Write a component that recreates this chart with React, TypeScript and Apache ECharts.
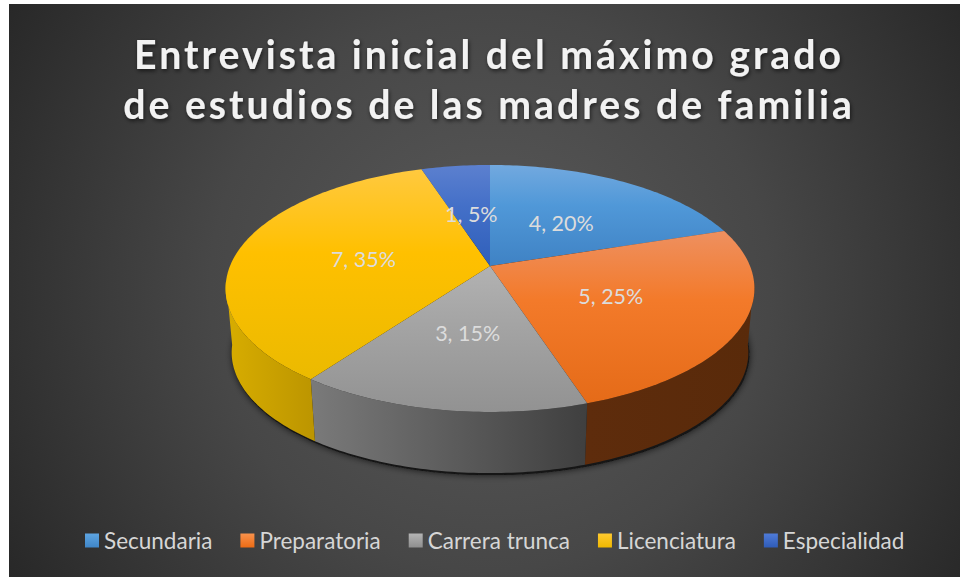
import React, { useEffect, useRef } from "react";
import * as echarts from "echarts";

const categories = ["Secundaria", "Preparatoria", "Carrera trunca", "Licenciatura", "Especialidad"];
const values = [4, 5, 3, 7, 1];
const titleLines = ["Entrevista inicial del máximo grado", "de estudios de las madres de familia"];

const topStops = [
  ["#72a9df", "#5098d8", "#3f82c4"],
  ["#ee9060", "#f37a2a", "#e56b18"],
  ["#b2b2b2", "#a4a4a4", "#929292"],
  ["#ffc93f", "#ffc000", "#ebba00"],
  ["#5c80cf", "#4470c8", "#2f5fba"],
];
const sideStops = [
  ["#3a6a9a", "#3a6a9a"],
  ["#5e2c0c", "#592a0a"],
  ["#7a7a7a", "#3f3f3f"],
  ["#d8ad00", "#bd9600"],
  ["#2a4a8a", "#2a4a8a"],
];
const legendStops = [
  ["#5ea5e2", "#3f86c8"],
  ["#f9924c", "#ec6b14"],
  ["#b4b4b4", "#8f8f8f"],
  ["#ffca30", "#f0b800"],
  ["#4f7bd8", "#2f5cb8"],
];

const AX = 490, AY = 266, RX = 260, RY = 119.4, P = 0.182;
const BOTTOM_Y = 330.5, BOTTOM_S = 0.977;
const total = values.reduce((a, b) => a + b, 0);

function project(deg: number, r = 1): [number, number] {
  const t = (deg * Math.PI) / 180;
  const u = r * Math.sin(t), v = -r * Math.cos(t);
  const d = 1 - P * v;
  return [AX + (RX * u) / d, AY + (RY * v) / d];
}
function lower(p: [number, number]): [number, number] {
  return [AX + BOTTOM_S * (p[0] - AX), BOTTOM_Y + BOTTOM_S * (p[1] - AY)];
}
function arc(a: number, b: number): [number, number][] {
  const pts: [number, number][] = [];
  const n = Math.max(2, Math.ceil(Math.abs(b - a)));
  for (let i = 0; i <= n; i++) pts.push(project(a + ((b - a) * i) / n));
  return pts;
}

function sliceItem(i: number) {
  return (_params: any, api: any) => {
    const value = api.value(0);
    const before = values.slice(0, i).reduce((a, b) => a + b, 0);
    const a0 = (before / total) * 360;
    const a1 = ((before + value) / total) * 360;
    const children: any[] = [];
    const s0 = Math.max(a0, 97), s1 = Math.min(a1, 263);
    if (s1 > s0) {
      const rim = arc(s0, s1);
      const xs = rim.map((p) => p[0]);
      children.push({
        type: "polygon", z2: 1,
        shape: { points: [...rim, ...rim.map(lower).reverse()] },
        style: {
          fill: new echarts.graphic.LinearGradient(Math.min(...xs), 0, Math.max(...xs), 0,
            [{ offset: 0, color: sideStops[i][0] }, { offset: 1, color: sideStops[i][1] }], true),
        },
      });
    }
    const outline: [number, number][] = [[AX, AY], ...arc(a0, a1)];
    const ys = outline.map((p) => p[1]);
    children.push({
      type: "polygon", z2: 10,
      shape: { points: outline },
      style: {
        fill: new echarts.graphic.LinearGradient(0, Math.min(...ys), 0, Math.max(...ys), [
          { offset: 0, color: topStops[i][0] },
          { offset: 0.4, color: topStops[i][1] },
          { offset: 1, color: topStops[i][2] },
        ], true),
      },
    });
    const mid = project((a0 + a1) / 2, 0.5);
    children.push({
      type: "text", z2: 20,
      style: {
        text: `${value}, ${Math.round((value / total) * 100)}%`,
        x: mid[0], y: mid[1] + 2,
        align: "center", verticalAlign: "middle",
        fill: "#dcdcdc", font: "21.5px Lato",
      },
    });
    return { type: "group", children };
  };
}

function shadowItem() {
  const rim = arc(0, 360).map(lower).map((p) => [p[0] + 1, p[1] + 2]);
  return {
    type: "polygon",
    shape: { points: rim },
    style: { fill: "#141414", shadowBlur: 7, shadowColor: "rgba(0,0,0,0.75)" },
  };
}

export default function App() {
  const ref = useRef<HTMLDivElement>(null);
  useEffect(() => {
    const chart = echarts.init(ref.current!, undefined, { renderer: "svg" });
    const spaceTitle = () => {
      ref.current?.querySelectorAll("text").forEach((t) => {
        if (titleLines.includes((t.textContent || "").trim())) t.style.letterSpacing = "3px";
      });
    };
    chart.setOption({
      animation: false,
      backgroundColor: "#ffffff",
      title: {
        text: titleLines.join("\n"),
        left: 484, top: 23, textAlign: "center",
        textStyle: {
          color: "#f2f2f2", fontFamily: "Lato", fontWeight: "bold", fontSize: 39.2, lineHeight: 50,
          textShadowColor: "rgba(0,0,0,0.6)", textShadowBlur: 4, textShadowOffsetX: 1, textShadowOffsetY: 2,
        },
      },
      graphic: [{
        type: "rect", z: 0, silent: true,
        shape: { x: 9, y: 4, width: 951, height: 573 },
        style: {
          fill: new echarts.graphic.RadialGradient(490, 290, 560, [
            { offset: 0, color: "#5a5a5a" },
            { offset: 0.5, color: "#474747" },
            { offset: 1, color: "#282828" },
          ], true),
        },
      }],
      legend: {
        data: categories, left: 85, top: 529, orient: "horizontal", icon: "rect",
        itemWidth: 14, itemHeight: 14, itemGap: 28, padding: 0, selectedMode: false,
        textStyle: { color: "#d6d6d6", fontFamily: "Lato", fontSize: 22.5 },
      },
      series: [
        { type: "custom", name: "sombra", coordinateSystem: "none", silent: true, z: 1, data: [1], renderItem: shadowItem },
        ...categories.map((name, i) => ({
          type: "custom", name, coordinateSystem: "none", z: 2, silent: true,
          data: [values[i]],
          itemStyle: {
            color: {
              type: "linear", x: 0, y: 0, x2: 0, y2: 1,
              colorStops: [{ offset: 0, color: legendStops[i][0] }, { offset: 1, color: legendStops[i][1] }],
            },
          },
          renderItem: sliceItem(i),
        })),
      ],
    });
    spaceTitle();
    chart.on("finished", spaceTitle);
    return () => chart.dispose();
  }, []);
  return <div ref={ref} style={{ position: "absolute", left: 0, top: 0, width: 960, height: 577 }} />;
}
